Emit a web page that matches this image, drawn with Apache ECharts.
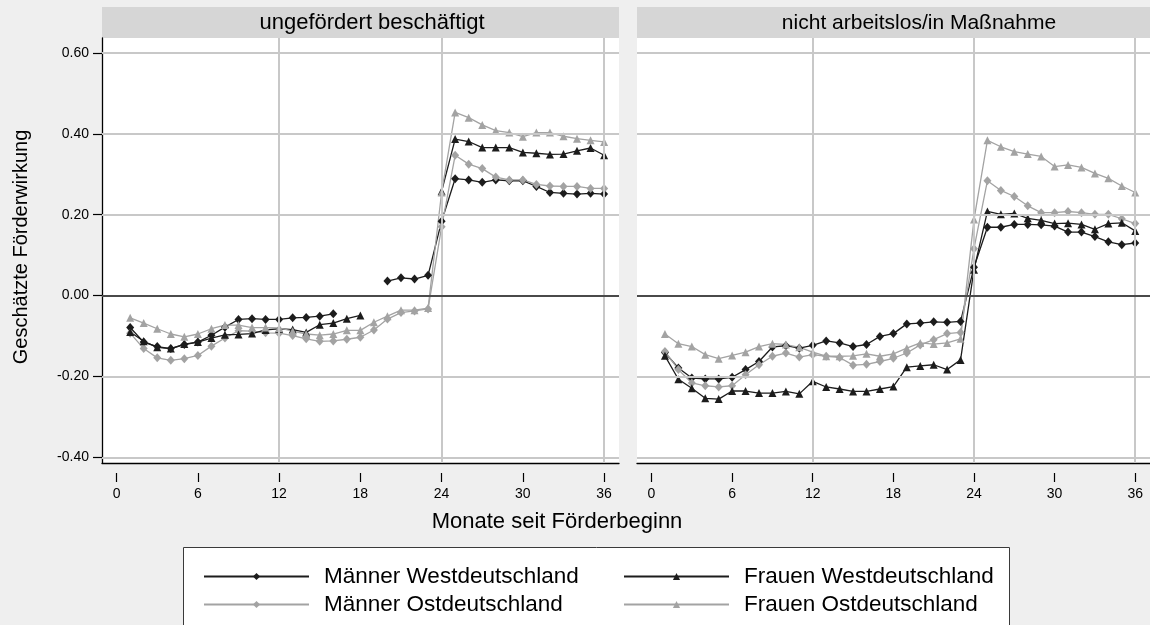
<!DOCTYPE html>
<html>
<head>
<meta charset="utf-8">
<title>Geschätzte Förderwirkung</title>
<script src="https://cdn.jsdelivr.net/npm/echarts@6/dist/echarts.min.js"></script>
<style>
  html, body { margin: 0; padding: 0; background: #efefef; }
  #chart { width: 1150px; height: 625px; }
</style>
</head>
<body>
<div id="chart"></div>
<script>
// Monate seit Förderbeginn
const months = [1, 2, 3, 4, 5, 6, 7, 8, 9, 10, 11, 12, 13, 14, 15, 16, 17, 18,
  19, 20, 21, 22, 23, 24, 25, 26, 27, 28, 29, 30, 31, 32, 33, 34, 35, 36];
const xTicks = [0, 6, 12, 18, 24, 30, 36];
const yTicks = [-0.4, -0.2, 0, 0.2, 0.4, 0.6];
const panelTitles = ["ungefördert beschäftigt", "nicht arbeitslos/in Maßnahme"];
const seriesNames = ["Männer Westdeutschland", "Männer Ostdeutschland",
  "Frauen Westdeutschland", "Frauen Ostdeutschland"];

// Panel 1: ungefördert beschäftigt
const mWest1 = [-0.079, -0.115, -0.126, -0.131, -0.121, -0.115, -0.098, -0.078, -0.059, -0.057, -0.059, -0.059,
  -0.055, -0.054, -0.051, -0.045, null, null, null, 0.036, 0.044, 0.041, 0.050, 0.184,
  0.289, 0.286, 0.280, 0.286, 0.284, 0.284, 0.270, 0.255, 0.253, 0.251, 0.253, 0.251];
const mOst1 = [-0.093, -0.131, -0.154, -0.160, -0.156, -0.148, -0.125, -0.105, -0.087, -0.088, -0.092, -0.093,
  -0.099, -0.107, -0.113, -0.112, -0.108, -0.103, -0.085, -0.058, -0.042, -0.038, -0.033, 0.170,
  0.347, 0.325, 0.314, 0.293, 0.286, 0.286, 0.275, 0.271, 0.270, 0.270, 0.265, 0.265];
const fWest1 = [-0.090, -0.113, -0.128, -0.131, -0.120, -0.115, -0.105, -0.097, -0.096, -0.094, -0.085, -0.082,
  -0.084, -0.091, -0.072, -0.068, -0.057, -0.049, null, null, null, null, null, 0.258,
  0.387, 0.381, 0.366, 0.366, 0.366, 0.354, 0.352, 0.349, 0.350, 0.358, 0.365, 0.347];
const fOst1 = [-0.055, -0.068, -0.082, -0.095, -0.102, -0.095, -0.082, -0.073, -0.073, -0.079, -0.079, -0.080,
  -0.088, -0.095, -0.098, -0.095, -0.086, -0.086, -0.066, -0.051, -0.036, -0.036, -0.031, 0.255,
  0.453, 0.440, 0.422, 0.408, 0.403, 0.393, 0.403, 0.403, 0.394, 0.388, 0.384, 0.380];

// Panel 2: nicht arbeitslos/in Maßnahme
const mWest2 = [-0.141, -0.179, -0.204, -0.206, -0.206, -0.202, -0.183, -0.163, -0.127, -0.124, -0.130, -0.123,
  -0.112, -0.117, -0.126, -0.121, -0.101, -0.094, -0.070, -0.068, -0.065, -0.066, -0.064, 0.070,
  0.169, 0.169, 0.176, 0.176, 0.175, 0.172, 0.157, 0.157, 0.146, 0.133, 0.126, 0.130];
const mOst2 = [-0.138, -0.183, -0.216, -0.223, -0.226, -0.223, -0.196, -0.171, -0.150, -0.142, -0.152, -0.146,
  -0.150, -0.153, -0.172, -0.170, -0.163, -0.155, -0.142, -0.122, -0.109, -0.094, -0.091, 0.116,
  0.284, 0.260, 0.245, 0.222, 0.205, 0.205, 0.208, 0.205, 0.201, 0.201, 0.190, 0.178];
const fWest2 = [-0.149, -0.207, -0.229, -0.254, -0.256, -0.236, -0.236, -0.241, -0.241, -0.237, -0.243, -0.212,
  -0.226, -0.231, -0.237, -0.237, -0.231, -0.225, -0.177, -0.174, -0.171, -0.183, -0.159, 0.064,
  0.208, 0.201, 0.203, 0.191, 0.186, 0.178, 0.179, 0.176, 0.164, 0.178, 0.180, 0.160];
const fOst2 = [-0.095, -0.119, -0.126, -0.146, -0.156, -0.148, -0.140, -0.126, -0.119, -0.121, -0.128, -0.140,
  -0.150, -0.150, -0.149, -0.144, -0.150, -0.144, -0.130, -0.117, -0.120, -0.117, -0.107, 0.188,
  0.384, 0.368, 0.356, 0.350, 0.344, 0.319, 0.323, 0.317, 0.302, 0.290, 0.271, 0.255];

const FONT = "'Liberation Sans', Arial, Helvetica, sans-serif";
const BLACK = "#1c1c1c";
const GRAY = "#a3a3a3";

let chart = echarts.init(document.getElementById("chart"));

function pairs(vals) {
  return months.map((m, i) => [m, vals[i]]);
}

// eine Linie mit Markern
function linie(name, vals, color, symbol, panel) {
  return {
    name: name,
    type: "line",
    xAxisIndex: panel * 2,
    yAxisIndex: panel,
    data: pairs(vals),
    symbol: symbol,
    symbolSize: symbol === "diamond" ? [8, 9] : [8, 8],
    lineStyle: { color: color, width: 1.3 },
    itemStyle: { color: color },
    z: 3,
    animation: false,
  };
}

// Gitterlinien + Nulllinie je Panel
function gitter(panel) {
  let lines = [];
  yTicks.filter((v) => v !== 0).forEach((v) => lines.push({ yAxis: v }));
  [12, 24, 36].forEach((v) => lines.push({ xAxis: v }));
  lines.push({ yAxis: 0, lineStyle: { color: "#4a4a4a", width: 2 } });
  return {
    type: "line",
    xAxisIndex: panel * 2,
    yAxisIndex: panel,
    data: [],
    z: 1,
    silent: true,
    animation: false,
    markLine: {
      silent: true,
      symbol: ["none", "none"],
      label: { show: false },
      lineStyle: { color: "#c8c8c8", width: 2, type: "solid" },
      animation: false,
      data: lines,
    },
  };
}

const grids = [
  { left: 102, top: 38, width: 517, height: 425 },
  { left: 637, top: 38, width: 517, height: 425 },
];

let xAxes = [];
let yAxes = [];
grids.forEach((g, p) => {
  // Achsenlinie
  xAxes.push({
    type: "value", gridIndex: p, position: "bottom", min: -1.08, max: 37.1,
    axisLine: { show: true, onZero: false, lineStyle: { color: "#000", width: 1.3 } },
    axisTick: { show: false }, axisLabel: { show: false }, splitLine: { show: false },
  });
  // Ticks und Beschriftung etwas abgesetzt
  xAxes.push({
    type: "value", gridIndex: p, position: "bottom", offset: 10, min: -1.08, max: 37.1,
    axisLine: { show: false, onZero: false },
    axisTick: { show: true, length: 9, customValues: xTicks, lineStyle: { color: "#000", width: 1.2 } },
    axisLabel: { show: true, customValues: xTicks, margin: 14, color: "#000", fontSize: 14, fontFamily: FONT },
    splitLine: { show: false },
  });
  yAxes.push({
    type: "value", gridIndex: p, min: -0.414, max: 0.637,
    axisLine: { show: p === 0, onZero: false, lineStyle: { color: "#000", width: 1.3 } },
    axisTick: { show: p === 0, length: 9, customValues: yTicks, lineStyle: { color: "#000", width: 1.2 } },
    axisLabel: {
      show: p === 0, customValues: yTicks, margin: 13, color: "#000", fontSize: 14, fontFamily: FONT,
      formatter: (v) => v.toFixed(2),
    },
    splitLine: { show: false },
  });
});

let series = [
  gitter(0), gitter(1),
  linie(seriesNames[0], mWest1, BLACK, "diamond", 0),
  linie(seriesNames[1], mOst1, GRAY, "diamond", 0),
  linie(seriesNames[2], fWest1, BLACK, "triangle", 0),
  linie(seriesNames[3], fOst1, GRAY, "triangle", 0),
  linie(seriesNames[0], mWest2, BLACK, "diamond", 1),
  linie(seriesNames[1], mOst2, GRAY, "diamond", 1),
  linie(seriesNames[2], fWest2, BLACK, "triangle", 1),
  linie(seriesNames[3], fOst2, GRAY, "triangle", 1),
];

const legendText = { fontSize: 22.5, fontFamily: FONT, color: "#000", padding: [0, 0, 0, 10] };

let option = {
  backgroundColor: "#efefef",
  animation: false,
  grid: grids.map((g) => Object.assign({ show: true, backgroundColor: "#fff", borderWidth: 0 }, g)),
  xAxis: xAxes,
  yAxis: yAxes,
  legend: [
    {
      data: [seriesNames[0], seriesNames[1]], orient: "vertical", left: 203, top: 565,
      itemWidth: 105, itemHeight: 9, itemGap: 5, padding: 0, textStyle: legendText,
      selectedMode: false,
    },
    {
      data: [seriesNames[2], seriesNames[3]], orient: "vertical", left: 623, top: 565,
      itemWidth: 105, itemHeight: 9, itemGap: 5, padding: 0, textStyle: legendText,
      selectedMode: false,
    },
  ],
  graphic: [
    { type: "rect", shape: { x: 102, y: 7, width: 517, height: 31 }, style: { fill: "#d6d6d6" }, z: 0 },
    { type: "rect", shape: { x: 637, y: 7, width: 517, height: 31 }, style: { fill: "#d6d6d6" }, z: 0 },
    {
      type: "text", x: 372, y: 23, z: 5,
      style: { text: panelTitles[0], font: "22px " + FONT, fill: "#000", textAlign: "center", textVerticalAlign: "middle" },
    },
    {
      type: "text", x: 919, y: 23, z: 5,
      style: { text: panelTitles[1], font: "21px " + FONT, fill: "#000", textAlign: "center", textVerticalAlign: "middle" },
    },
    {
      type: "text", x: 21, y: 247, rotation: Math.PI / 2, z: 5,
      style: { text: "Geschätzte Förderwirkung", font: "20px " + FONT, fill: "#000", textAlign: "center", textVerticalAlign: "middle" },
    },
    {
      type: "text", x: 557, y: 522, z: 5,
      style: { text: "Monate seit Förderbeginn", font: "22px " + FONT, fill: "#000", textAlign: "center", textVerticalAlign: "middle" },
    },
    {
      type: "rect", z: 0,
      shape: { x: 183.5, y: 547.5, width: 826, height: 100 },
      style: { fill: "#fff", stroke: "#3a3a3a", lineWidth: 1 },
    },
  ],
  series: series,
};

option && chart.setOption(option);
window.addEventListener("resize", function () {
  chart.resize();
});
</script>
</body>
</html>
